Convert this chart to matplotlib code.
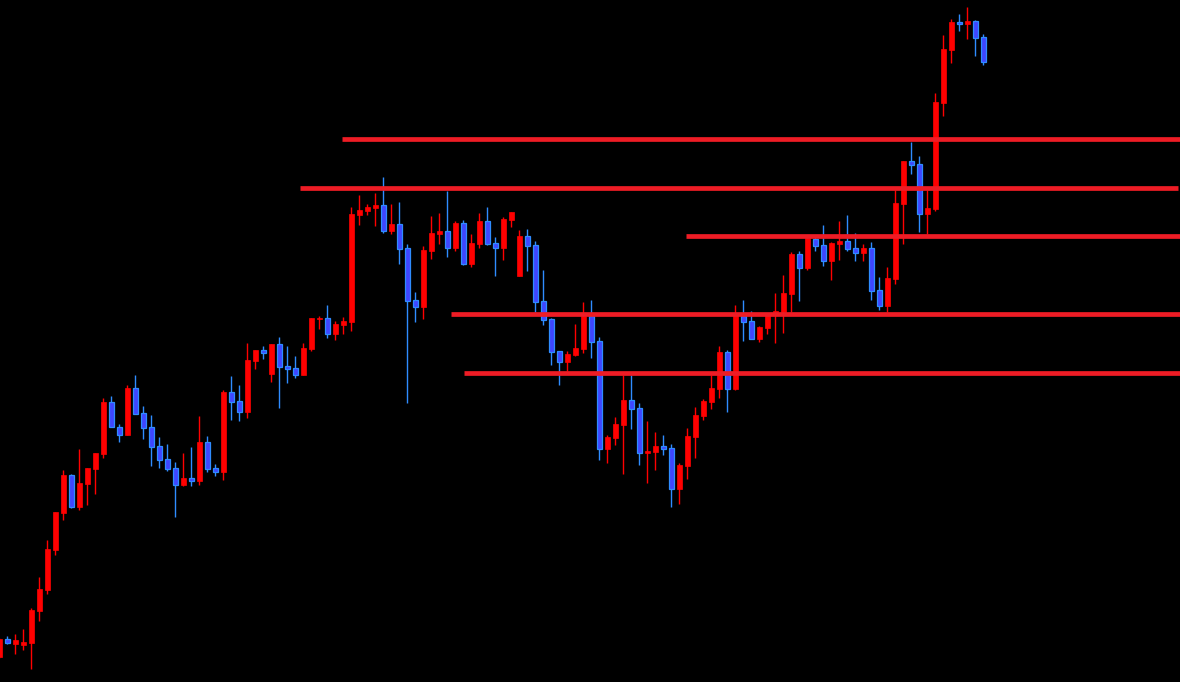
import numpy as np
import matplotlib
matplotlib.use('Agg')
import matplotlib.pyplot as plt

# candle data (price units), oldest first
opens = [25, 42.7, 38.3, 37, 39.3, 71.3, 92.3, 132.3, 169, 207,
         175.3, 198.3, 213.3, 228.3, 280, 255, 247.3, 294, 269, 255,
         236, 223, 214, 197, 204, 201, 240, 214, 210, 290,
         281, 270, 321, 332, 308, 338, 316, 314, 307, 333,
         363, 364, 348, 357, 360.3, 467.3, 471.3, 474.3, 477, 451.3,
         458, 434, 382, 375.3, 431.3, 448.3, 451, 434.3, 459, 418.3,
         438.3, 461, 439, 434.3, 462.3, 406.3, 446, 437, 381, 363,
         331, 320.3, 327.3, 333.3, 366, 341, 233.3, 244.3, 257.3, 282,
         274, 229.3, 230.3, 236, 234, 193.3, 216.3, 245.3, 266.3, 280.3,
         293.3, 330, 293.3, 366, 361, 343.3, 354.3, 370, 370, 388.3,
         428, 414.3, 443, 437, 421.3, 438.3, 441, 434, 429.3, 434,
         392, 376.3, 403.3, 478.3, 521, 518, 468.3, 473.3, 579.3, 632.3,
         660, 658.3, 661, 645]
highs = [44, 46, 48, 53, 74, 105, 142, 170, 212, 208,
         233, 214, 229, 284, 286, 258, 297, 307, 276, 267,
         245, 238, 220, 229, 235, 266, 246, 218, 292, 306,
         297, 339, 332, 336, 338, 345, 336, 326, 339, 364,
         366, 377, 361, 365, 475, 487, 478, 489, 505, 478,
         480, 438, 390, 436, 466, 469, 491, 461, 462, 448,
         469, 475, 445, 465, 470, 452, 453, 441, 412, 364,
         331, 331, 358, 380, 382, 345, 247, 265, 307, 307,
         279, 261.3, 250, 247, 238, 219, 254, 275, 283, 307,
         336, 332, 377, 382, 371, 356, 369, 389, 407, 430,
         431, 445, 445, 457, 440, 461, 467, 449, 438, 440,
         405, 415, 492, 521, 540, 526, 492, 589, 647, 663,
         668, 675, 662, 648]
lows = [24, 38, 28.3, 32, 13, 61.3, 88.3, 127.3, 162.3, 174.3,
        172.3, 177.3, 188.3, 224.3, 254.7, 240.3, 247.3, 268.3, 243.3, 216.3,
        214.3, 211.3, 165.3, 196, 196, 197, 210, 206, 202, 262,
        261, 264, 313, 323, 300, 274, 299, 304, 307, 331,
        353, 344, 342, 348.3, 351.3, 457.3, 467.3, 456.3, 449.3, 448.3,
        418.3, 279.3, 360.3, 363.3, 423.3, 438.3, 425.3, 431.3, 417.3, 415.3,
        434.3, 437.3, 406.3, 422.3, 455.3, 406.3, 411.3, 370.3, 357.3, 317.3,
        297.3, 311.3, 326.3, 329.3, 324.3, 222.3, 219.3, 237.3, 208.3, 253.3,
        217.3, 199.3, 212.3, 227.3, 175.3, 178.3, 203.3, 224.3, 262.3, 273.3,
        284.3, 270.3, 292, 341.3, 343.3, 340.3, 348.3, 339.3, 349.3, 370,
        381.3, 412.3, 431.3, 416.3, 402.3, 422.3, 431.3, 421.3, 421.3, 382.3,
        372.3, 370.3, 398.3, 438.3, 508.3, 450.3, 448.3, 471.3, 566.3, 619.3,
        651.3, 643.3, 626.3, 617.3]
closes = [43, 38.7, 42, 40, 72, 93, 133, 170, 207, 175.3,
          199, 214, 229, 280, 254.7, 247.3, 294, 268.3, 254.3, 235.3,
          222.3, 213.3, 197.3, 204, 201.3, 240, 213.3, 210, 290, 280,
          270, 322, 332, 329, 338, 315, 313, 307, 334, 364,
          364, 348, 358, 361, 468, 472, 475, 477, 451.3, 458,
          433.3, 381.3, 375.3, 432, 449, 451, 434.3, 459, 418.3, 439,
          461, 438.3, 434.3, 463, 470, 446, 436.3, 380.3, 362.3, 330.3,
          320.3, 328, 334, 366, 340.3, 233.3, 245, 258, 282, 273.3,
          229.3, 231, 236, 233.3, 193.3, 217, 246, 267, 281, 294,
          330, 293.3, 367, 360.3, 343.3, 355, 367, 371, 389, 428,
          414.3, 444, 436.3, 421.3, 439, 441, 433.3, 429.3, 434, 391.3,
          376.3, 404, 479, 521, 517.3, 468.3, 474, 580, 633, 660,
          658.3, 661, 644.3, 620.3]

# support / resistance levels: price and the candle index where each starts
level_prices = [542.7, 493.7, 445.7, 367.7, 308.7]
level_starts = [42.8, 37.6, 85.8, 56.5, 58.1]
level_ends = [147.6, 147.3, 147.6, 147.6, 147.6]

up_col = '#ff0000'
down_face = '#3f46ff'
down_edge = '#2f8cff'
level_col = '#ee1c25'

o = np.array(opens)
h = np.array(highs)
l = np.array(lows)
c = np.array(closes)
x = np.arange(len(o))
up = c >= o

fig = plt.figure(figsize=(11.8, 6.82), dpi=100, facecolor='black')
ax = fig.add_axes([0, 0, 1, 1])
ax.set_facecolor('black')

# wicks
ax.vlines(x[up], l[up], h[up], color=up_col, linewidth=1.0, zorder=2)
ax.vlines(x[~up], l[~up], h[~up], color=down_edge, linewidth=1.0, zorder=2)

# bodies
body_h = np.maximum(np.abs(c - o), 1.2)
body_b = np.minimum(o, c)
ax.bar(x[up], body_h[up], bottom=body_b[up], width=0.6, color=up_col,
       edgecolor=up_col, linewidth=0.5, zorder=3)
ax.bar(x[~up], body_h[~up], bottom=body_b[~up], width=0.6, color=down_face,
       edgecolor=down_edge, linewidth=0.9, zorder=3)

# horizontal levels
for p, s, e in zip(level_prices, level_starts, level_ends):
    ax.plot([s, e], [p, p], color=level_col, linewidth=3.4, zorder=4,
            solid_capstyle='butt')

ax.set_xlim(0.083, 147.58)
ax.set_ylim(0, 682)
ax.axis('off')

fig.savefig('out.png', dpi=100, facecolor='black')
plt.close(fig)
